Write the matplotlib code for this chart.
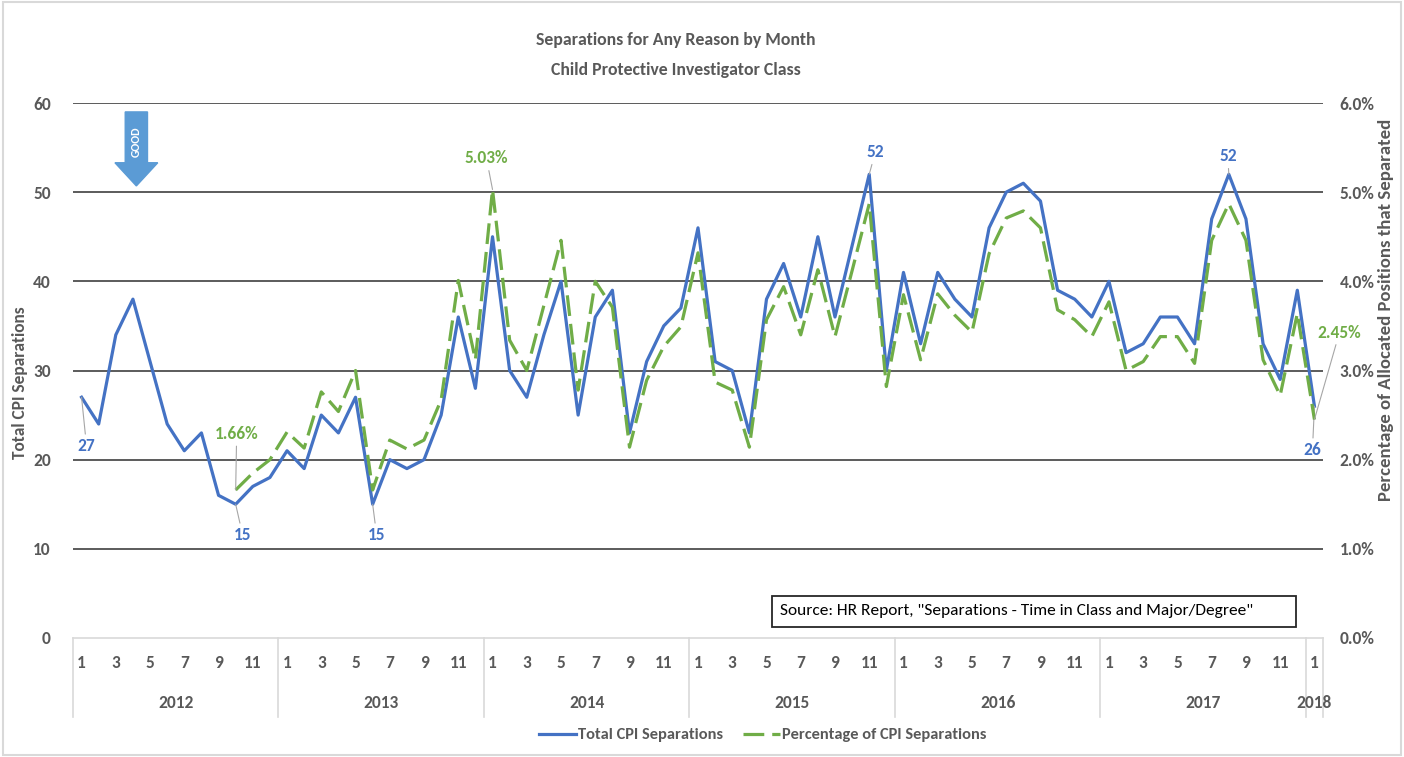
import numpy as np
import matplotlib.pyplot as plt
from matplotlib.patches import FancyArrow, Rectangle
from matplotlib.ticker import FuncFormatter
import matplotlib.transforms as mtrans

plt.rcParams['font.family'] = ['Carlito', 'DejaVu Sans']

# monthly data, Jan 2012 .. Jan 2018
years = [2012, 2013, 2014, 2015, 2016, 2017, 2018]
months = list(range(1, 13)) * 6 + [1]

total_sep = [27, 24, 34, 38, 31, 24, 21, 23, 16, 15, 17, 18,
             21, 19, 25, 23, 27, 15, 20, 19, 20, 25, 36, 28,
             45, 30, 27, 34, 40, 25, 36, 39, 23, 31, 35, 37,
             46, 31, 30, 23, 38, 42, 36, 45, 36, 44, 52, 30,
             41, 33, 41, 38, 36, 46, 50, 51, 49, 39, 38, 36,
             40, 32, 33, 36, 36, 33, 47, 52, 47, 33, 29, 39,
             26]

pct_sep = [np.nan] * 9 + [1.66, 1.85, 2.00,
           2.31, 2.13, 2.76, 2.54, 3.00, 1.66, 2.22, 2.12, 2.22, 2.67, 4.01, 3.12,
           5.03, 3.34, 3.00, 3.73, 4.46, 2.78, 4.00, 3.71, 2.14, 2.89, 3.27, 3.49,
           4.32, 2.87, 2.78, 2.14, 3.57, 3.94, 3.40, 4.13, 3.38, 4.12, 4.87, 2.82,
           3.85, 3.12, 3.86, 3.62, 3.43, 4.31, 4.71, 4.79, 4.60, 3.68, 3.57, 3.38,
           3.77, 3.00, 3.10, 3.38, 3.38, 3.08, 4.46, 4.87, 4.46, 3.12, 2.72, 3.64,
           2.45]
pct_sep = np.array(pct_sep) / 100

blue = '#4472C4'
green = '#70AD47'
txt = '#595959'
fs = 12.5

x = np.arange(len(total_sep))

W, H = 1404, 757
fig = plt.figure(figsize=(14.04, 7.57), dpi=100)
ax = fig.add_axes([73 / W, 1 - 638 / H, 1250 / W, 535 / H])
ax2 = ax.twinx()

ax.plot(x, total_sep, color=blue, lw=2.3, label='Total CPI Separations', zorder=3)
ax2.plot(x, pct_sep, color=green, lw=2.3, dashes=(6.5, 2.5), label='Percentage of CPI Separations', zorder=3)

ax.set_xlim(-0.5, len(x) - 0.5)
ax.set_ylim(0, 60)
ax2.set_ylim(0, 0.06)
ax.set_yticks(range(0, 61, 10))
ax2.set_yticks(np.arange(0, 0.061, 0.01))
ax2.yaxis.set_major_formatter(FuncFormatter(lambda v, p: f'{v * 100:.1f}%'))
ax.set_xticks([])

for a in (ax, ax2):
    for s in a.spines.values():
        s.set_visible(False)
    a.tick_params(axis='y', length=0, labelsize=fs, labelcolor=txt)
    for lab in a.get_yticklabels():
        lab.set_fontweight('bold')
ax.tick_params(axis='y', pad=16)
ax2.tick_params(axis='y', pad=12)

for v in range(10, 61, 10):
    ax.axhline(v, color='#404040', lw=1.2, zorder=1)

fig.text(20 / W, 1 - 383 / H, 'Total CPI Separations', rotation=90, ha='center', va='center',
         fontsize=fs, fontweight='bold', color=txt)
fig.text(1386 / W, 1 - 310 / H, 'Percentage of Allocated Positions that Separated', rotation=90,
         ha='center', va='center', fontsize=13.5, fontweight='bold', color=txt)

# category axis box with month / year labels
tr = mtrans.blended_transform_factory(ax.transData, ax.transAxes)
box_bottom = -(717 - 638) / 535
ax.plot([-0.5, len(x) - 0.5], [0, 0], color='#D9D9D9', lw=1.2, transform=tr, clip_on=False)
for i, m in enumerate(months):
    if m % 2 == 1:
        ax.text(i, -25 / 535, str(m), transform=tr, ha='center', va='center',
                fontsize=fs, fontweight='bold', color=txt)
    if m == 1:
        ax.plot([i - 0.5, i - 0.5], [0, box_bottom], color='#D9D9D9', lw=1.2,
                transform=tr, clip_on=False)
ax.plot([len(x) - 0.5] * 2, [0, box_bottom], color='#D9D9D9', lw=1.2, transform=tr, clip_on=False)
for k, yr in enumerate(years):
    first = k * 12
    last = min(first + 11, len(x) - 1)
    ax.text((first + last) / 2, -65 / 535, str(yr), transform=tr, ha='center', va='center',
            fontsize=fs, fontweight='bold', color=txt)

# data labels
lead = dict(arrowstyle='-', color='#A6A6A6', lw=0.8, shrinkA=1, shrinkB=0)
def lab(a, i, y, s, dx, dy, c):
    a.annotate(s, (i, y), xytext=(dx, dy), textcoords='offset pixels', ha='center', va='center',
               fontsize=fs, fontweight='bold', color=c, arrowprops=lead)

lab(ax, 0, total_sep[0], '27', 5, -49, blue)
lab(ax, 9, total_sep[9], '15', 7, -31, blue)
lab(ax, 17, total_sep[17], '15', 4, -31, blue)
lab(ax, 46, total_sep[46], '52', 6, 22, blue)
lab(ax, 67, total_sep[67], '52', -1, 18, blue)
lab(ax, 72, total_sep[72], '26', -2, -44, blue)
lab(ax2, 9, pct_sep[9], f'{pct_sep[9] * 100:.2f}%', 1, 56, green)
lab(ax2, 24, pct_sep[24], f'{pct_sep[24] * 100:.2f}%', -6, 31, green)
lab(ax2, 72, pct_sep[72], f'{pct_sep[72] * 100:.2f}%', 25, 87, green)

# "GOOD" arrow
arr = FancyArrow(3.2, 59.0, 0, -8.3, width=1.3, head_width=2.5, head_length=2.6,
                 length_includes_head=True, color='#5B9BD5', zorder=4)
ax.add_patch(arr)
ax.text(3.2, 55.6, 'GOOD', rotation=90, ha='center', va='center', fontsize=8.5,
        fontweight='bold', color='white', zorder=5)

# source note
fig.patches.append(Rectangle((772 / W, 1 - 627 / H), (1296 - 772) / W, 31 / H, transform=fig.transFigure,
                             fc='white', ec='#262626', lw=1.3))
fig.text(780 / W, 1 - 611 / H, 'Source: HR Report, "Separations - Time in Class and Major/Degree"',
         fontsize=fs, color='black', ha='left', va='center')

fig.text(676 / W, 1 - 40 / H, 'Separations for Any Reason by Month',
         ha='center', va='center', fontsize=12.8, fontweight='bold', color=txt)
fig.text(676 / W, 1 - 70 / H, 'Child Protective Investigator Class',
         ha='center', va='center', fontsize=12.8, fontweight='bold', color=txt)

h1, l1 = ax.get_legend_handles_labels()
h2, l2 = ax2.get_legend_handles_labels()
leg = fig.legend(h1 + h2, l1 + l2, loc='center', bbox_to_anchor=(763 / W, 1 - 735 / H),
                 ncol=2, frameon=False, fontsize=11.8, handlelength=2.25, handletextpad=0.15,
                 columnspacing=1.2)
for t in leg.get_texts():
    t.set_color(txt)
    t.set_fontweight('bold')

fig.patches.append(Rectangle((0.002, 0.002), 0.996, 0.996, transform=fig.transFigure,
                             fill=False, ec='#D9D9D9', lw=1.5))

fig.savefig('out.png', dpi=100)
